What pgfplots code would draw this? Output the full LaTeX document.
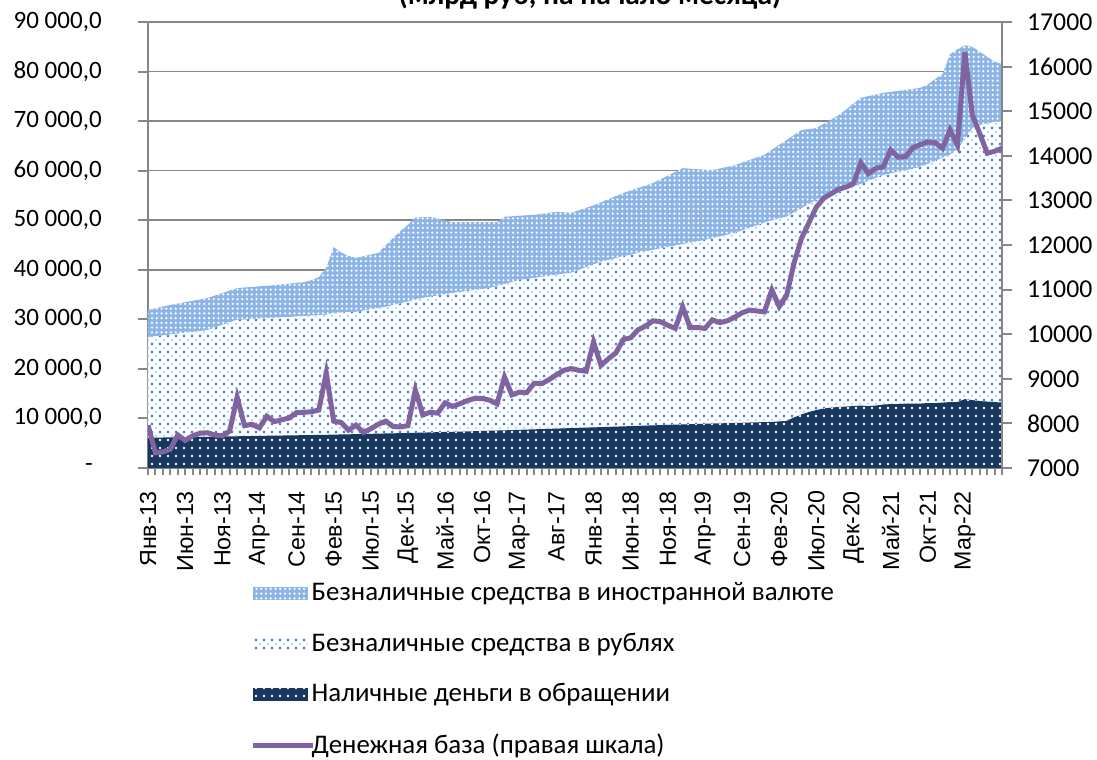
\documentclass[border=0pt]{standalone}
\usepackage{fontspec}
\setmainfont{Carlito}
\newfontfamily\arial{Liberation Sans}
\usepackage{pgfplots}
\pgfplotsset{compat=1.18}
\usepackage{pgfplotstable}
\usetikzlibrary{patterns.meta}
\definecolor{navy}{RGB}{23,55,94}
\definecolor{fxblue}{RGB}{140,180,230}
\definecolor{rubdot}{RGB}{75,135,215}
\definecolor{rubdot2}{RGB}{150,188,235}
\definecolor{mbase}{RGB}{128,100,162}
\definecolor{axgray}{RGB}{134,134,134}
\tikzset{
 cashfill/.style={fill=navy, draw=none, postaction={pattern={Dots[radius=0.55pt,distance=3.2pt]}, pattern color=white}},
 rubfill/.style={fill=white, draw=none, postaction={pattern={Dots[radius=0.62pt,distance=3.2pt]}, pattern color=rubdot}, postaction={pattern={Dots[radius=0.4pt,distance=3.2pt,xshift=1.6pt,yshift=1.6pt]}, pattern color=rubdot2}},
 fxfill/.style={fill=fxblue, draw=none, postaction={pattern={Dots[radius=0.5pt,distance=1.9pt]}, pattern color=white}},
}
\pgfplotsset{
 mylegarea/.style={legend image code/.code={\path[##1] (0pt,-2.6pt) rectangle (22pt,2.6pt);}},
 myleglin/.style={legend image code/.code={\draw[##1] (0pt,0pt) -- (24pt,0pt);}},
}
\pgfplotstableread{
i cash rub fx base
0 6100 20300 5500 7960
1 6120 20460 5650 7340
2 6150 20600 5820 7360
3 6180 20750 5970 7420
4 6200 20900 6080 7740
5 6230 21050 6180 7620
6 6250 21200 6290 7720
7 6280 21350 6390 7780
8 6300 21500 6500 7790
9 6330 22000 6470 7740
10 6350 22500 6450 7720
11 6380 23000 6430 7830
12 6400 23500 6400 8590
13 6430 23550 6440 7950
14 6450 23610 6480 7980
15 6480 23660 6520 7900
16 6500 23720 6560 8160
17 6530 23770 6600 8040
18 6550 23840 6660 8080
19 6580 23890 6730 8120
20 6600 23960 6790 8240
21 6630 24010 6860 8250
22 6650 24080 7170 8260
23 6680 24130 7690 8300
24 6700 24200 9500 9130
25 6730 24570 13300 8050
26 6770 24600 12130 8020
27 6800 24630 11370 7850
28 6830 24670 10900 7960
29 6870 24880 10980 7800
30 6900 25100 11070 7880
31 6930 25320 11150 7980
32 6970 25530 12400 8050
33 7000 25860 13540 7930
34 7030 26190 14580 7920
35 7070 26510 15520 7950
36 7100 26840 16560 8750
37 7140 27160 16300 8190
38 7180 27370 16150 8250
39 7230 27570 15530 8230
40 7270 27780 14920 8460
41 7310 27990 14300 8380
42 7350 28150 14100 8440
43 7390 28310 13900 8510
44 7430 28470 13700 8560
45 7480 28620 13500 8560
46 7520 28780 13300 8520
47 7560 29140 12900 8440
48 7600 29500 13600 9040
49 7650 29850 13300 8640
50 7700 30200 13000 8700
51 7750 30360 12890 8690
52 7800 30530 12770 8900
53 7850 30690 12760 8890
54 7900 30860 12740 8980
55 7950 31020 12730 9090
56 8000 31190 12410 9190
57 8050 31350 12100 9230
58 8100 31850 12050 9190
59 8150 32350 12000 9170
60 8200 32850 11950 9820
61 8250 33350 12020 9300
62 8300 33660 12290 9450
63 8350 33970 12550 9580
64 8400 34280 12820 9880
65 8450 34590 12960 9920
66 8500 34900 13100 10100
67 8550 35150 13300 10180
68 8600 35400 13500 10300
69 8650 35650 13950 10280
70 8700 35900 14400 10200
71 8750 36130 14870 10130
72 8800 36360 15340 10610
73 8840 36600 14960 10150
74 8880 36840 14580 10150
75 8930 37070 14200 10130
76 8970 37380 13750 10320
77 9010 37690 13730 10260
78 9050 38000 13720 10300
79 9090 38310 13700 10380
80 9130 38790 13700 10480
81 9180 39260 13710 10540
82 9220 39740 13720 10520
83 9260 40220 13720 10500
84 9300 40700 14200 10990
85 9400 40950 14850 10620
86 9500 41200 15500 10870
87 10200 41350 15650 11600
88 10800 41600 15800 12150
89 11300 41950 15150 12500
90 11700 42400 14500 12850
91 12000 42620 14850 13050
92 12200 42940 15190 13150
93 12300 43360 15540 13250
94 12400 43780 16190 13300
95 12500 44200 16830 13380
96 12600 44700 17400 13840
97 12500 45400 17130 13600
98 12600 45900 16870 13720
99 12800 46300 16600 13750
100 12900 46520 16480 14130
101 12900 46840 16360 13970
102 13000 47060 16240 13980
103 13000 47380 16120 14180
104 13000 47700 16000 14250
105 13100 48230 16070 14310
106 13100 48850 16550 14290
107 13200 49380 16920 14170
108 13300 49900 20300 14580
109 13300 51000 20200 14240
110 13900 52600 18800 16330
111 13700 54800 16500 14920
112 13500 55700 14800 14500
113 13400 56100 13500 14060
114 13300 56500 12200 14100
115 13200 56800 11500 14170
}\data
\begin{document}
\begin{tikzpicture}
\useasboundingbox (-59.2pt,-116.8pt) rectangle (379.6pt,187.2pt);
\begin{axis}[
  at={(0pt,0pt)}, anchor=south west, scale only axis,
  width=341.6pt, height=178.4pt,
  xmin=0, xmax=115, ymin=0, ymax=90000,
  scaled y ticks=false,
  stack plots=y,
  axis x line*=bottom, axis y line*=left,
  axis line style={axgray, line width=0.8pt},
  tick style={axgray, line width=0.8pt},
  tick align=outside,
  major tick length=4pt, minor tick length=2.8pt,
  xtick={0,5,...,110},
  minor xtick={0,1,...,115},
  every major x tick/.append style={draw=none},
  xticklabels={Янв-13,Июн-13,Ноя-13,Апр-14,Сен-14,Фев-15,Июл-15,Дек-15,Май-16,Окт-16,Мар-17,Авг-17,Янв-18,Июн-18,Ноя-18,Апр-19,Сен-19,Фев-20,Июл-20,Дек-20,Май-21,Окт-21,Мар-22},
  xticklabel style={rotate=90, anchor=east, font=\arial\fontsize{9.3}{11}\selectfont},
  xticklabel shift=1.7pt,
  ytick={0,10000,...,90000},
  yticklabels={{-\kern3.6pt},{10 000,0},{20 000,0},{30 000,0},{40 000,0},{50 000,0},{60 000,0},{70 000,0},{80 000,0},{90 000,0}},
  yticklabel style={font=\fontsize{10}{12}\selectfont},
  yticklabel shift=11pt,
  ymajorgrids, grid style={axgray, line width=0.6pt},
]
\addplot[cashfill] table[x=i,y=cash]{\data} \closedcycle;
\addplot[rubfill] table[x=i,y=rub]{\data} \closedcycle;
\addplot[fxfill] table[x=i,y=fx]{\data} \closedcycle;
\end{axis}
\begin{axis}[
  at={(0pt,0pt)}, anchor=south west, scale only axis,
  width=341.6pt, height=178.4pt,
  xmin=0, xmax=115, ymin=7000, ymax=17000,
  scaled y ticks=false,
  axis x line=none, axis y line*=right,
  axis line style={axgray, line width=0.8pt},
  tick style={axgray, line width=0.8pt},
  tick align=outside, major tick length=4pt,
  ytick={7000,8000,...,17000},
  yticklabels={7000,8000,9000,10000,11000,12000,13000,14000,15000,16000,17000},
  yticklabel style={font=\fontsize{10.3}{12}\selectfont},
  yticklabel shift=2.5pt,
  legend cell align=left,
  legend style={at={(0.1194,-0.253)}, anchor=north west, draw=none, fill=none,
    font=\fontsize{10.75}{13}\selectfont, row sep=10.4pt, column sep=-2pt, inner sep=0pt,
    nodes={inner sep=0.5pt}},
]
\addlegendimage{fxfill, mylegarea}
\addlegendentry{Безналичные средства в иностранной валюте}
\addlegendimage{rubfill, mylegarea}
\addlegendentry{Безналичные средства в рублях}
\addlegendimage{cashfill, mylegarea}
\addlegendentry{Наличные деньги в обращении}
\addplot[mbase, line width=2pt, no marks, myleglin] table[x=i,y=base]{\data};
\addlegendentry{Денежная база (правая шкала)}
\end{axis}
\node[anchor=base, font=\bfseries\fontsize{11.8}{14}\selectfont] at (176.8pt,185.5pt) {(млрд руб, на начало месяца)};
\end{tikzpicture}
\end{document}
